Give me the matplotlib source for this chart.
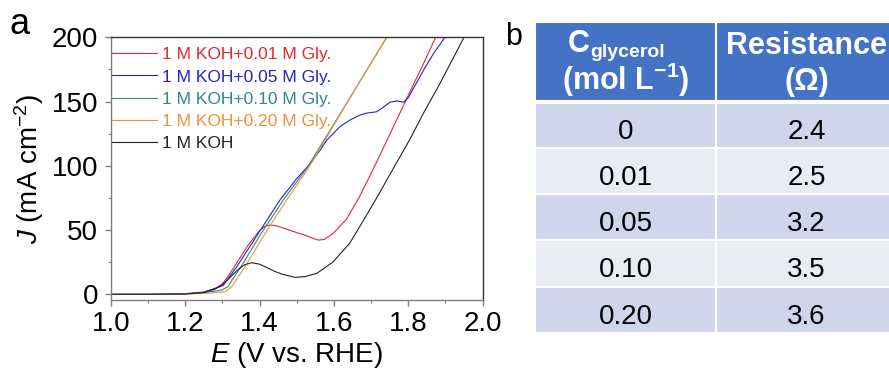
import matplotlib
matplotlib.use('Agg')
import matplotlib.pyplot as plt
from matplotlib.patches import Rectangle
from matplotlib.ticker import MultipleLocator, FormatStrFormatter

plt.rcParams['font.family'] = ['Liberation Sans', 'DejaVu Sans']
plt.rcParams['mathtext.fontset'] = 'custom'
plt.rcParams['mathtext.rm'] = 'Liberation Sans'
plt.rcParams['mathtext.it'] = 'Liberation Sans:italic'
plt.rcParams['mathtext.bf'] = 'Liberation Sans:bold'

# LSV curves (E in V vs. RHE, J in mA cm-2)
e_001 = [1.00, 1.10, 1.20, 1.25, 1.28, 1.30, 1.32, 1.34, 1.37, 1.40, 1.415, 1.428, 1.445, 1.46,
         1.49, 1.522, 1.545, 1.558, 1.575, 1.598, 1.634, 1.666, 1.70, 1.733, 1.77, 1.805, 1.84,
         1.872, 1.882]
j_001 = [0, 0, 0.3, 1.5, 4.5, 8, 16, 25, 38.5, 49.5, 53, 54, 53.3, 52,
         49, 46, 43.5, 42.2, 42.8, 47.4, 58.5, 74.5, 94, 114, 136.5, 158, 179,
         199, 205]

e_005 = [1.00, 1.10, 1.20, 1.25, 1.28, 1.303, 1.32, 1.339, 1.397, 1.455, 1.50, 1.534, 1.56,
         1.581, 1.616, 1.643, 1.67, 1.688, 1.714, 1.73, 1.751, 1.77, 1.787, 1.80, 1.813,
         1.825, 1.84, 1.867, 1.896, 1.91]
j_005 = [0, 0, 0.5, 1.8, 4.5, 7, 14, 21.5, 47.5, 73.4, 90, 101, 111,
         120, 130.4, 135.6, 139.5, 141, 142, 145, 149.5, 150.5, 149.5, 153, 160,
         166, 174, 187, 199, 205]

e_010 = [1.00, 1.10, 1.20, 1.25, 1.28, 1.30, 1.315, 1.35, 1.405, 1.464, 1.53, 1.639, 1.74, 1.752]
j_010 = [0, 0, 0.3, 1.2, 2.5, 3.5, 6, 21.5, 47.5, 73.4, 99.3, 151, 199, 205]

e_020 = [1.00, 1.10, 1.20, 1.25, 1.28, 1.307, 1.325, 1.361, 1.415, 1.473, 1.534, 1.639, 1.74, 1.752]
j_020 = [0, 0, 0.2, 0.8, 1.3, 2, 5.9, 21.5, 47.5, 73.4, 99.3, 151, 199, 205]

e_koh = [1.00, 1.10, 1.20, 1.25, 1.28, 1.30, 1.32, 1.345, 1.36, 1.379, 1.40, 1.415, 1.44, 1.46,
         1.495, 1.522, 1.554, 1.598, 1.643, 1.67, 1.715, 1.75, 1.805, 1.839, 1.885, 1.948, 1.955]
j_koh = [0, 0, 0.3, 1.3, 4, 7.5, 13, 20, 23, 24.6, 23.5, 21.5, 18, 15.8,
         13.2, 13.8, 16.3, 25.3, 40, 53, 75, 93, 121, 140, 164, 199, 203]

labels = ['1 M KOH+0.01 M Gly.', '1 M KOH+0.05 M Gly.', '1 M KOH+0.10 M Gly.',
          '1 M KOH+0.20 M Gly.', '1 M KOH']
colors = ['#e8262e', '#2424cc', '#2e8a80', '#f0913a', '#222222']

# table values
conc = ['0', '0.01', '0.05', '0.10', '0.20']
resistance = ['2.4', '2.5', '3.2', '3.5', '3.6']

fig = plt.figure(figsize=(8.89, 3.72), dpi=100)
W, H = 889, 372

# ---- panel a ----
ax = fig.add_axes([110.7 / W, 72 / H, 372 / W, 262.7 / H])
curves = [(e_001, j_001), (e_005, j_005), (e_010, j_010), (e_020, j_020), (e_koh, j_koh)]
for (e, j), c, lab in zip(curves, colors, labels):
    ax.plot(e, j, color=c, lw=0.8, label=lab)

ax.set_xlim(1.0, 2.0)
ax.set_ylim(-4.4, 200)
ax.xaxis.set_major_locator(MultipleLocator(0.2))
ax.xaxis.set_minor_locator(MultipleLocator(0.1))
ax.xaxis.set_major_formatter(FormatStrFormatter('%.1f'))
ax.yaxis.set_major_locator(MultipleLocator(50))
ax.yaxis.set_minor_locator(MultipleLocator(25))
ax.tick_params(which='both', direction='out', colors='#7f7f7f', labelcolor='black',
               labelsize=20)
ax.tick_params(which='major', length=4, width=1)
ax.tick_params(which='minor', length=2.5, width=0.8)
ax.tick_params(axis='y', pad=5)
ax.tick_params(axis='x', pad=4)
for s in ['left', 'bottom']:
    ax.spines[s].set_color('#7f7f7f')
for s in ['top', 'right']:
    ax.spines[s].set_color('#333333')
for s in ax.spines.values():
    s.set_linewidth(1.0)

ax.set_xlabel(r'$\mathit{E}$ (V vs. RHE)', fontsize=20, labelpad=2)
ax.set_ylabel(r'$\mathit{J}$ (mA cm$^{\mathregular{-2}}$)', fontsize=20, labelpad=4)

leg = ax.legend(loc='upper left', bbox_to_anchor=(-0.012, 0.985), borderaxespad=0,
                borderpad=0.35, frameon=False, fontsize=12.5, handlelength=2.55,
                handletextpad=0.3, labelspacing=0.4, labelcolor='linecolor')

fig.text(20 / W, 1 - 25 / H, 'a', fontsize=26, ha='center', va='center')
fig.text(514 / W, 1 - 37 / H, 'b', fontsize=22, ha='center', va='center')

# ---- panel b: table ----
hdr = 80 / 46.3
tab = fig.add_axes([535 / W, 39 / H, 362 / W, 311.3 / H])
tab.set_xlim(0, 2)
tab.set_ylim(hdr + len(conc), 0)
tab.axis('off')

for col in range(2):
    tab.add_patch(Rectangle((col, 0), 1, hdr, facecolor='#4472c4', edgecolor='white', lw=1.5))
for i in range(len(conc)):
    fc = '#cfd5ea' if i % 2 == 0 else '#e9ebf5'
    for col in range(2):
        tab.add_patch(Rectangle((col, hdr + i), 1, 1, facecolor=fc, edgecolor='white', lw=1.5))
tab.axhline(hdr, color='white', lw=3)

# header: C with subscript drawn as two pieces so the subscript stays compact
tab.text(0.30, 0.66, 'C', color='white', fontsize=22, fontweight='bold',
         ha='right', va='baseline')
tab.text(0.305, 0.765, 'glycerol', color='white', fontsize=14, fontweight='bold',
         ha='left', va='baseline')
tab.text(0.5, 1.47, r'(mol L$^{\mathbf{-1}}$)', color='white', fontsize=22, fontweight='bold',
         ha='center', va='baseline')
tab.text(1.5, 0.70, 'Resistance', color='white', fontsize=22, fontweight='bold',
         ha='center', va='baseline')
tab.text(1.5, 1.47, '(Ω)', color='white', fontsize=22, fontweight='bold',
         ha='center', va='baseline')

for i, (c, r) in enumerate(zip(conc, resistance)):
    tab.text(0.5, hdr + i + 0.8, c, fontsize=20, ha='center', va='baseline')
    tab.text(1.5, hdr + i + 0.8, r, fontsize=20, ha='center', va='baseline')

fig.savefig('out.png', dpi=100)
